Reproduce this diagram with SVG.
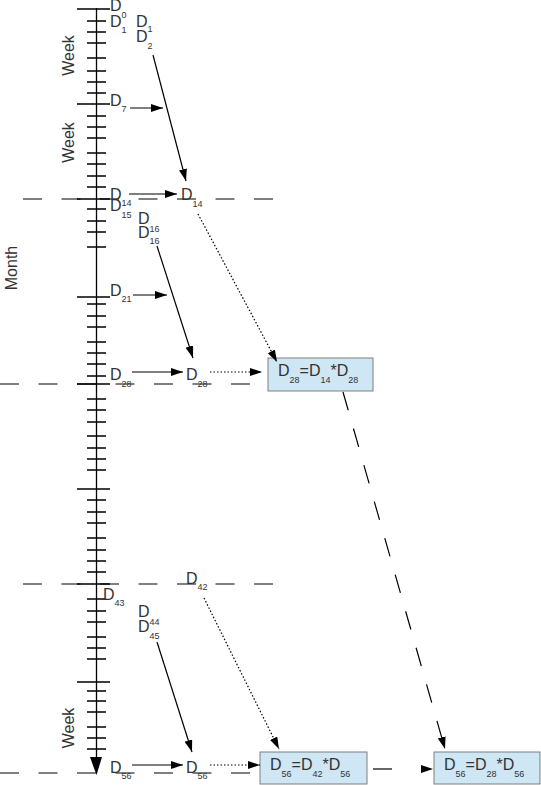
<svg xmlns="http://www.w3.org/2000/svg" width="541" height="785" viewBox="0 0 541 785">
<defs>
<style>
.t{font-family:"Liberation Sans",Arial,sans-serif;font-size:16px;fill:#333}
.s{font-size:9px}
.ax{stroke:#000;stroke-width:1.3;fill:none}
.dash{stroke:#000;stroke-width:1.2;stroke-dasharray:19 19.5;fill:none}
.sol{stroke:#000;stroke-width:1.2;fill:none;marker-end:url(#ah)}
.dot{stroke:#000;stroke-width:1.2;stroke-dasharray:1.5 2;fill:none;marker-end:url(#ah)}
.ld{stroke:#000;stroke-width:1.2;stroke-dasharray:19 19;fill:none;marker-end:url(#ah)}
.box{fill:#cfe6f5;stroke:#7f7f7f;stroke-width:1}
</style>
<marker id="ah" markerUnits="userSpaceOnUse" markerWidth="13" markerHeight="9" refX="12" refY="4" orient="auto">
<path d="M0,0 L12,4 L0,8 z" fill="#000"/>
</marker>
</defs>
<rect width="541" height="785" fill="#fff"/>

<g id="axis">
<line class="ax" x1="96.5" y1="8" x2="96.5" y2="760"/>
<polygon points="90,757 102,757 96.5,775" fill="#000"/>
<path class="ax" d="M77,9H110M77,104H110M77,199H110M77,297H110M77,384H110M77,489H110M77,584H110M77,682H110"/>
<path class="ax" d="M87,21H106M87,32H106M87,43H106M87,58H106M87,71H106M87,82H106M87,93H106M87,116H106M87,127H106M87,138H106M87,153H106M87,164H106M87,176H106M87,187H106M87,209H106M87,221H106M87,232H106M87,247H106M87,304H106M87,316H106M87,327H106M87,342H106M87,353H106M87,364H106M87,376H106M87,399H106M87,410H106M87,422H106M87,436H106M87,448H106M87,459H106M87,470H106M87,500H106M87,512H106M87,523H106M87,538H106M87,550H106M87,561H106M87,572H106M87,599H106M87,611H106M87,622H106M87,637H106M87,648H106M87,659H106M87,691H106M87,701H106M87,712H106M87,727H106M87,738H106M87,749H106"/>
<text class="t" transform="translate(74,55.5) rotate(-90)" text-anchor="middle">Week</text>
<text class="t" transform="translate(74,142.5) rotate(-90)" text-anchor="middle">Week</text>
<text class="t" transform="translate(74,728) rotate(-90)" text-anchor="middle">Week</text>
<text class="t" transform="translate(17,268) rotate(-90)" text-anchor="middle">Month</text>
</g>

<g id="gridlines">
<line class="dash" x1="23" y1="199" x2="273" y2="199"/>
<line class="dash" x1="0" y1="384" x2="250" y2="384"/>
<line class="dash" x1="23" y1="584" x2="273" y2="584"/>
<line class="dash" x1="0" y1="773" x2="250" y2="773"/>
</g>

<g id="labels">
<g id="n-d0"><text class="t" x="110" y="11">D<tspan class="s" y="18">0</tspan></text></g>
<g id="n-d1"><text class="t" x="110" y="27">D<tspan class="s" y="33">1</tspan></text></g>
<g id="n-d1b"><text class="t" x="136" y="27">D<tspan class="s" y="32">1</tspan></text></g>
<g id="n-d2"><text class="t" x="136" y="42">D<tspan class="s" y="49">2</tspan></text></g>
<g id="n-d7"><text class="t" x="110" y="106">D<tspan class="s" y="112">7</tspan></text></g>
<g id="n-d14"><text class="t" x="110" y="200">D<tspan class="s" y="206">14</tspan></text></g>
<g id="n-d15"><text class="t" x="110" y="211">D<tspan class="s" y="218">15</tspan></text></g>
<g id="n-d14b"><text class="t" x="181" y="200">D<tspan class="s" y="207">14</tspan></text></g>
<g id="n-d16a"><text class="t" x="138" y="224">D<tspan class="s" y="232">16</tspan></text></g>
<g id="n-d16b"><text class="t" x="138" y="238">D<tspan class="s" y="244">16</tspan></text></g>
<g id="n-d21"><text class="t" x="110" y="296">D<tspan class="s" y="302">21</tspan></text></g>
<g id="n-d28"><text class="t" x="110" y="380">D<tspan class="s" y="387">28</tspan></text></g>
<g id="n-d28b"><text class="t" x="186" y="380">D<tspan class="s" y="387">28</tspan></text></g>
<g id="n-d42"><text class="t" x="186" y="584">D<tspan class="s" y="590">42</tspan></text></g>
<g id="n-d43"><text class="t" x="103" y="600">D<tspan class="s" y="606">43</tspan></text></g>
<g id="n-d44"><text class="t" x="138" y="617">D<tspan class="s" y="625">44</tspan></text></g>
<g id="n-d45"><text class="t" x="138" y="632">D<tspan class="s" y="639">45</tspan></text></g>
<g id="n-d56"><text class="t" x="110" y="773">D<tspan class="s" y="779">56</tspan></text></g>
<g id="n-d56b"><text class="t" x="186" y="773">D<tspan class="s" y="779">56</tspan></text></g>
</g>

<g id="box1">
<rect class="box" x="268" y="358" width="105" height="33"/>
<text class="t" x="278" y="376">D<tspan class="s" y="383">28</tspan><tspan y="376">=D</tspan><tspan class="s" y="383">14</tspan><tspan y="376">*D</tspan><tspan class="s" y="383">28</tspan></text>
</g>
<g id="box2">
<rect class="box" x="260" y="752" width="107" height="32"/>
<text class="t" x="270" y="770">D<tspan class="s" y="777">56</tspan><tspan y="770">=D</tspan><tspan class="s" y="777">42</tspan><tspan y="770">*D</tspan><tspan class="s" y="777">56</tspan></text>
</g>
<g id="box3">
<rect class="box" x="434" y="752" width="106" height="32"/>
<text class="t" x="444" y="770">D<tspan class="s" y="777">56</tspan><tspan y="770">=D</tspan><tspan class="s" y="777">28</tspan><tspan y="770">*D</tspan><tspan class="s" y="777">56</tspan></text>
</g>

<g id="connectors">
<line class="sol" x1="130" y1="108" x2="163" y2="108"/>
<line class="sol" x1="153" y1="55" x2="186" y2="181"/>
<line class="sol" x1="129" y1="194" x2="177" y2="194"/>
<line class="dot" x1="198" y1="214" x2="277" y2="362"/>
<line class="sol" x1="157" y1="246" x2="193" y2="358"/>
<line class="sol" x1="133" y1="295" x2="167" y2="295"/>
<line class="sol" x1="132" y1="372" x2="183" y2="372"/>
<line class="dot" x1="210" y1="372" x2="262" y2="372"/>
<line class="ld" x1="343" y1="392" x2="445" y2="749"/>
<line class="dot" x1="204" y1="598" x2="279" y2="749"/>
<line class="sol" x1="157" y1="642" x2="192" y2="752"/>
<line class="sol" x1="132" y1="765" x2="183" y2="765"/>
<line class="dot" x1="210" y1="765" x2="260" y2="765"/>
<line class="ld" x1="373" y1="769" x2="433" y2="769" style="stroke-dasharray:19 100"/>
</g>
</svg>
